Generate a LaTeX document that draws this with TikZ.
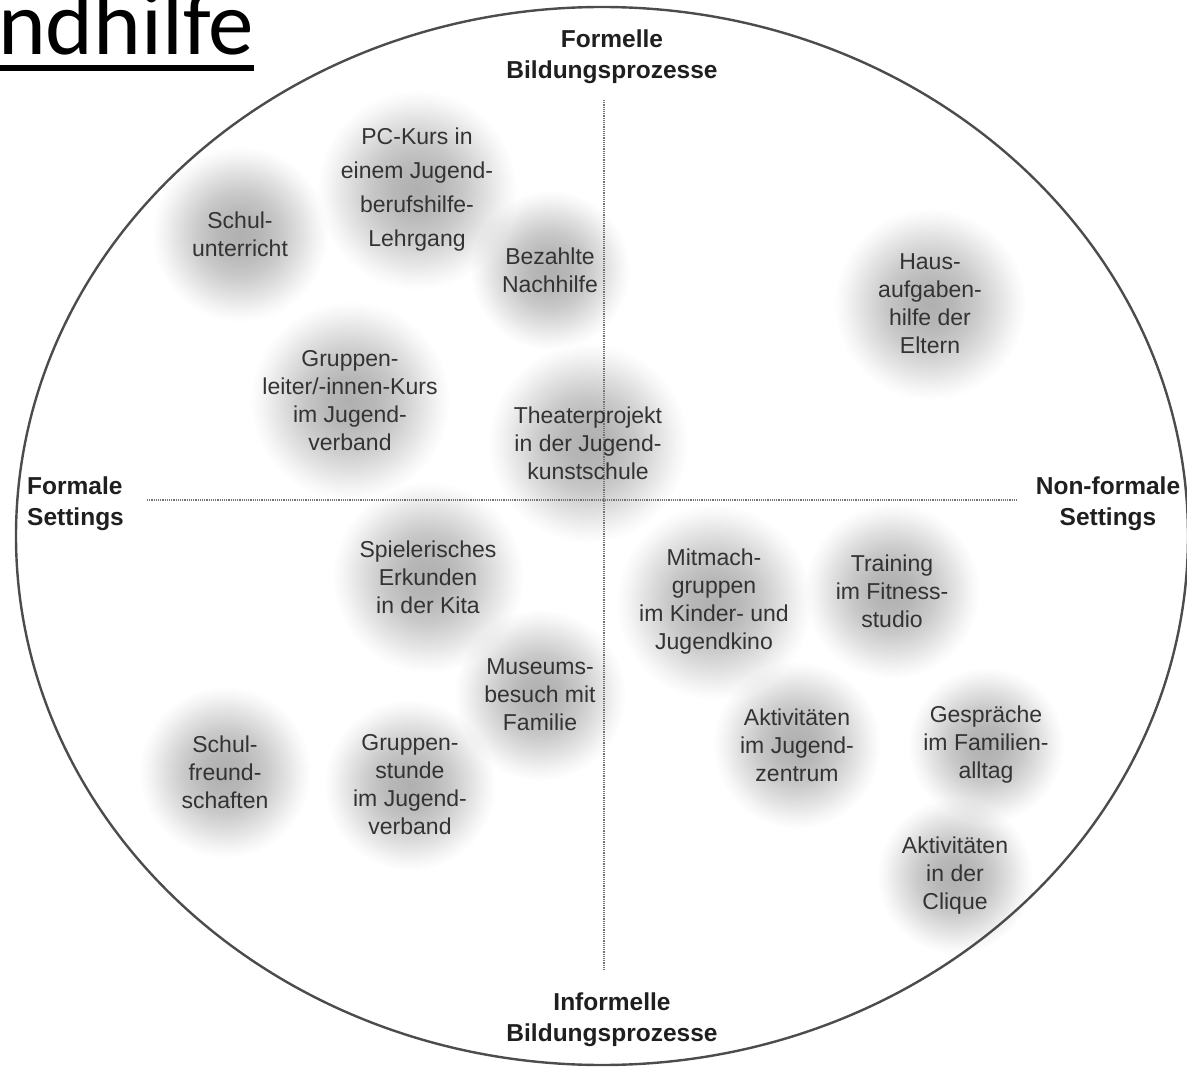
\documentclass[tikz,border=0pt]{standalone}
\usepackage{fontspec}
\setmainfont{Liberation Sans}
\newfontfamily\titelfont{Carlito}
\usetikzlibrary{backgrounds}

\pgfdeclareradialshading{blobshade}{\pgfpoint{0bp}{0bp}}{%
  color(0bp)=(black!31); color(6bp)=(black!28); color(12bp)=(black!21);
  color(18bp)=(black!11); color(22bp)=(black!4); color(25bp)=(white);
  color(50bp)=(white)}

\begin{document}
\begin{tikzpicture}[
  x=1pt, y=-1pt,
  line cap=round,
  line join=round,
  feld/.style={align=center, text=black!80, inner sep=0pt,
    font=\fontsize{23}{28}\selectfont},
  achse/.style={align=center, text=black!88, inner sep=0pt,
    font=\fontsize{24.5}{31}\selectfont\bfseries},
  blob/.style={shading=blobshade, blend mode=multiply},
  trenner/.style={black!55, line width=1.3pt, dash pattern=on 1.2pt off 1pt}
]
  \useasboundingbox (0,0) rectangle (1187,1067);

  % Titel (angeschnitten)
  \node[anchor=base west, inner sep=0pt,
    font=\titelfont\fontsize{91}{91}\selectfont] (titel) at (-2,55) {ndhilfe};
  \draw[line width=6.5pt, line cap=butt]
    ([yshift=-13pt]titel.base west) -- ([yshift=-13pt]titel.base east);

  % Rahmen
  \draw[line width=2.4pt, black!70] (602,536) ellipse [x radius=586, y radius=529];

  % Achsen
  \node[achse] (formell) at (612,57) {Formelle\\Bildungsprozesse};
  \node[achse] (informell) at (612,1020) {Informelle\\Bildungsprozesse};
  \node[achse, align=left, anchor=west] (formal) at (27,504) {Formale\\Settings};
  \node[achse] (nonformal) at (1108,504) {Non-formale\\Settings};

  % Felder
  \node[feld] (schul) at (240,234) {Schul-\\unterricht};
  \node[feld, font=\fontsize{23}{34}\selectfont] (pckurs) at (417,190)
    {PC-Kurs in\\einem Jugend-\\berufshilfe-\\Lehrgang};
  \node[feld] (nachhilfe) at (550,270) {Bezahlte\\Nachhilfe};
  \node[feld] (haus) at (930,304) {Haus-\\aufgaben-\\hilfe der\\Eltern};
  \node[feld] (leiter) at (350,401)
    {Gruppen-\\leiter/-innen-Kurs\\im Jugend-\\verband};
  \node[feld] (theater) at (588,443) {Theaterprojekt\\in der Jugend-\\kunstschule};
  \node[feld] (kita) at (428,577) {Spielerisches\\Erkunden\\in der Kita};
  \node[feld] (kino) at (714,602) {Mitmach-\\gruppen\\im Kinder- und\\Jugendkino};
  \node[feld] (fitness) at (892,591) {Training\\im Fitness-\\studio};
  \node[feld] (museum) at (540,695) {Museums-\\besuch mit\\Familie};
  \node[feld] (zentrum) at (797,745) {Aktivitäten\\im Jugend-\\zentrum};
  \node[feld] (alltag) at (986,745) {Gespräche\\im Familien-\\alltag};
  \node[feld] (clique) at (955,876) {Aktivitäten\\in der\\Clique};
  \node[feld] (freunde) at (225,772) {Schul-\\freund-\\schaften};
  \node[feld] (stunde) at (410,785) {Gruppen-\\stunde\\im Jugend-\\verband};

  \begin{scope}[on background layer]
    \foreach \n/\r in {schul/88, pckurs/100, nachhilfe/80, haus/96, leiter/100,
      theater/100, kita/96, kino/98, fitness/88, museum/86, zentrum/84,
      alltag/78, clique/78, freunde/86, stunde/86}
      \shade[blob] (\n) circle (\r);
    \draw[trenner] (147,500) -- (1017,500);
    \draw[trenner] (604,100) -- (604,970);
  \end{scope}
\end{tikzpicture}
\end{document}
